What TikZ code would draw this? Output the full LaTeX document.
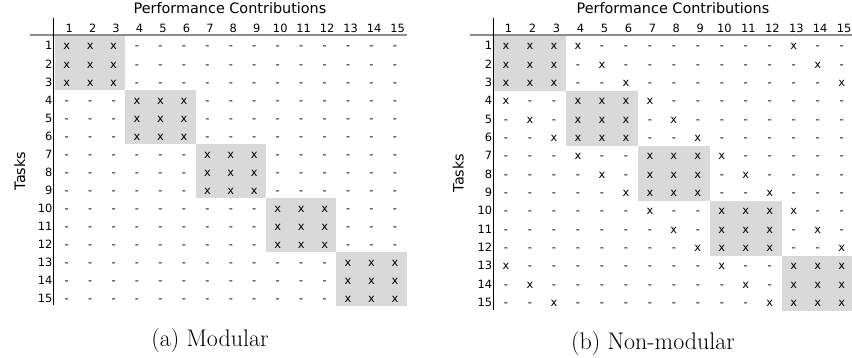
\documentclass[tikz,border=0pt]{standalone}
\usepackage{fontspec}
\newfontfamily\tabfont{DejaVu Sans}[Scale=1.14]
\newfontfamily\ttlfont{DejaVu Sans}[Scale=1.44]
\usetikzlibrary{calc}
\definecolor{blockgray}{gray}{0.85}
\definecolor{rulegray}{gray}{0.55}
\tikzset{
  entry/.style={font=\tabfont, inner sep=0pt, anchor=base},
  rownum/.style={entry, anchor=base east},
  colnum/.style={entry},
  axtitle/.style={font=\ttlfont, inner sep=0pt, anchor=base},
  subcap/.style={font=\fontsize{24}{26}\selectfont, inner sep=0pt, anchor=base}
}

\begin{document}
\begin{tikzpicture}[x=1pt, y=-1pt]
\useasboundingbox (0,0) rectangle (852,358);

% (a) modular
\def\xo{66.7} \def\colstep{23.45} \def\rowstep{18.02}
\foreach \b in {0,...,4}
  \fill[blockgray] ({\xo+(3*\b-.5)*\colstep},{36+3*\b*\rowstep}) rectangle ++({3*\colstep},{3*\rowstep});
\draw[rulegray, line width=1.2pt] (30,35) -- (407,35);
\draw[line width=.8pt] (53.5,18) -- (53.5,305);
\node[axtitle] (pca) at (230,14) {Performance Contributions};
\node[axtitle, rotate=90] (tka) at (25,171) {Tasks};
\foreach \c in {1,...,15} \node[colnum] (ma-h\c) at ({\xo+(\c-1)*\colstep+2.5},32.3) {\c};
\foreach \r in {1,...,15} {
  \node[rownum] (ma-r\r) at (52.5,{50+(\r-1)*\rowstep}) {\r};
  \foreach \c in {1,...,15} {
    \pgfmathtruncatemacro\br{(\r-1)/3}
    \pgfmathtruncatemacro\bc{(\c-1)/3}
    \ifnum\br=\bc \def\mk{x}\else\def\mk{-}\fi
    \node[entry] (ma-\r-\c) at ({\xo+(\c-1)*\colstep},{50+(\r-1)*\rowstep}) {\mk};
  }
}
\node[subcap] (capa) at (210,346.7) {(a) Modular};

% (b) non-modular
\def\xo{506} \def\colstep{23.98} \def\rowstep{18.33}
\foreach \b in {0,...,4}
  \fill[blockgray] ({\xo+(3*\b-.5)*\colstep},{36+3*\b*\rowstep}) rectangle ++({3*\colstep},{3*\rowstep});
\draw[rulegray, line width=1.2pt] (470,35) -- (852,35);
\draw[line width=.8pt] (493.3,18) -- (493.3,310);
\node[axtitle] (pcb) at (673,14) {Performance Contributions};
\node[axtitle, rotate=90] (tkb) at (463.5,173) {Tasks};
\foreach \c in {1,...,15} \node[colnum] (mb-h\c) at ({\xo+(\c-1)*\colstep+2.5},32.3) {\c};
\foreach \r in {1,...,15} {
  \node[rownum] (mb-r\r) at (492.3,{50+(\r-1)*\rowstep}) {\r};
  \foreach \c in {1,...,15} {
    \pgfmathtruncatemacro\br{(\r-1)/3}
    \pgfmathtruncatemacro\bc{(\c-1)/3}
    \pgfmathtruncatemacro\jr{\r-1-3*\br}
    \pgfmathtruncatemacro\jc{\c-1-3*\bc}
    \pgfmathtruncatemacro\dblk{mod(\bc-\br+5,5)}
    \pgfmathtruncatemacro\hit{(\dblk==0)+(\jr==\jc)*((\dblk==1)+(\dblk==4))}
    \ifnum\hit>0 \def\mk{x}\else\def\mk{-}\fi
    \node[entry] (mb-\r-\c) at ({\xo+(\c-1)*\colstep},{50+(\r-1)*\rowstep}) {\mk};
  }
}
\node[subcap] (capb) at (653,349) {(b) Non-modular};
\end{tikzpicture}
\end{document}
